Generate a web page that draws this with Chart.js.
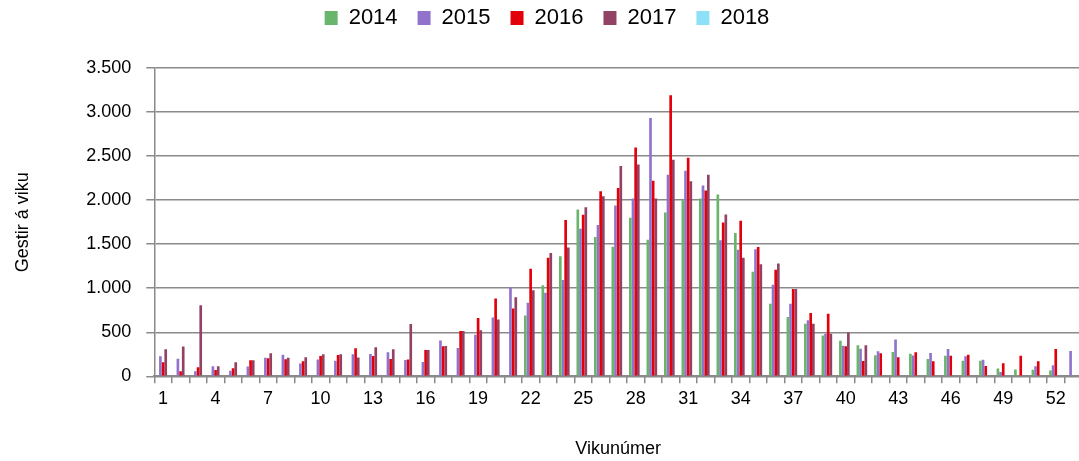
<!DOCTYPE html>
<html>
<head>
<meta charset="utf-8">
<script src="https://cdn.jsdelivr.net/npm/chart.js@4.4.1/dist/chart.umd.min.js"></script>
<style>
  html, body { margin: 0; padding: 0; background: #fff; overflow: hidden; }
  #wrap { width: 1082px; height: 461px; }
</style>
</head>
<body>
<div id="wrap"><canvas id="weekChart"></canvas></div>
<script>
// weeks 1..53 (2015 had a week 53)
const weeks = ['1','2','3','4','5','6','7','8','9','10','11','12','13','14','15','16','17','18','19','20',
  '21','22','23','24','25','26','27','28','29','30','31','32','33','34','35','36','37','38','39','40',
  '41','42','43','44','45','46','47','48','49','50','51','52','53'];

const y2014 = [null,null,null,null,null,null,null,null,null,null,null,null,null,null,null,null,null,null,null,null,
  null,690,1035,1364,1895,1580,1470,1800,1551,1859,2000,2018,2063,1627,1187,824,673,597,464,403,
  353,239,277,255,196,233,176,176,88,76,73,65,null];
const y2015 = [228,200,57,114,64,110,212,246,144,191,176,249,253,272,184,161,406,322,471,667,
  1012,834,948,1092,1675,1717,1940,2018,2932,2287,2333,2166,1544,1438,1441,1040,825,635,483,346,
  312,285,418,236,264,309,229,187,50,null,115,126,286];
const y2016 = [159,57,102,72,91,182,205,193,170,230,241,318,230,195,191,299,341,513,663,883,
  769,1220,1345,1774,1834,2100,2138,2598,2219,3190,2481,2109,1745,1767,1468,1211,992,718,711,342,
  175,262,217,274,172,233,244,118,149,233,172,309,null];
const y2017 = [307,337,807,114,159,182,261,212,216,249,249,214,329,306,594,299,345,513,524,644,
  898,978,1399,1463,1918,2043,2388,2405,2018,2458,2215,2287,1836,1346,1271,1281,992,597,483,498,
  353,null,null,null,null,null,null,null,null,null,null,null,null];
const y2018 = [];

const yMax = 3500;
const yStep = 500;

const gridGrey = '#8a8a8a';

Chart.defaults.font.family = "'Liberation Sans', Arial, sans-serif";
Chart.defaults.color = '#000';

function dotThousands(v) {
  return String(v).replace(/\B(?=(\d{3})+(?!\d))/g, '.');
}

// keeps the legend up top and leaves room before the plot
const legendNudge = {
  id: 'legendNudge',
  beforeInit(chart) {
    const fit = chart.legend.fit;
    chart.legend.fit = function () {
      fit.call(this);
      this.height += 16;
    };
    const draw = chart.legend.draw;
    chart.legend.draw = function () {
      const ctx = this.ctx;
      ctx.save();
      ctx.translate(6, -13);
      draw.call(this);
      ctx.restore();
    };
  }
};

const ctx = document.getElementById('weekChart').getContext('2d');
new Chart(ctx, {
  type: 'bar',
  data: {
    labels: weeks,
    datasets: [
      { label: '2014', data: y2014, backgroundColor: '#69b56c' },
      { label: '2015', data: y2015, backgroundColor: '#9173cc' },
      { label: '2016', data: y2016, backgroundColor: '#e2000b' },
      { label: '2017', data: y2017, backgroundColor: '#924264' },
      { label: '2018', data: y2018, backgroundColor: '#8de0f8' }
    ]
  },
  options: {
    responsive: true,
    maintainAspectRatio: false,
    animation: false,
    categoryPercentage: 0.76,
    barPercentage: 1.0,
    layout: { padding: 0 },
    plugins: {
      legend: {
        position: 'top',
        labels: {
          boxWidth: 13,
          boxHeight: 14,
          padding: 20,
          font: { size: 22 },
          color: '#000'
        }
      },
      tooltip: { enabled: false }
    },
    scales: {
      x: {
        grid: {
          drawOnChartArea: false,
          drawTicks: true,
          tickLength: 7,
          color: gridGrey,
          lineWidth: 1.5
        },
        border: { display: true, color: gridGrey, width: 2 },
        ticks: {
          autoSkip: false,
          maxRotation: 0,
          padding: 5,
          font: { size: 18 },
          callback: (val, i) => (i % 3 === 0 ? weeks[i] : '')
        },
        title: {
          display: true,
          text: 'Vikunúmer',
          font: { size: 18 },
          padding: { top: 4, bottom: 1 }
        },
        afterFit: (scale) => { scale.height = 84.7; }
      },
      y: {
        min: 0,
        max: yMax,
        grid: {
          color: gridGrey,
          lineWidth: 1.5,
          tickLength: 8
        },
        border: { display: true, color: gridGrey, width: 1.5 },
        ticks: {
          stepSize: yStep,
          padding: 15,
          font: { size: 18 },
          callback: (v) => dotThousands(v)
        },
        title: {
          display: true,
          text: 'Gestir á viku',
          font: { size: 18 },
          padding: { top: 12, bottom: 0 }
        },
        afterFit: (scale) => { scale.width = 154.3; }
      }
    }
  },
  plugins: [legendNudge]
});
</script>
</body>
</html>
